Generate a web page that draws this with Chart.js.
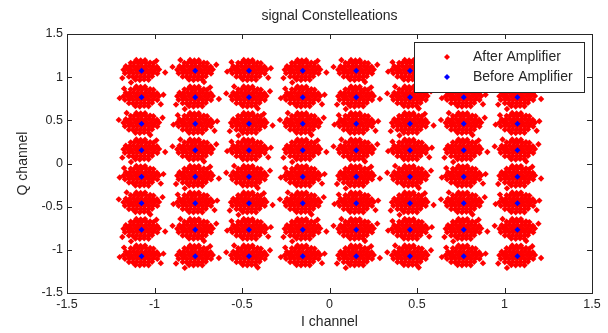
<!DOCTYPE html>
<html>
<head>
<meta charset="utf-8">
<script src="https://cdn.jsdelivr.net/npm/chart.js@4.4.0/dist/chart.umd.min.js"></script>
<style>
  html, body { margin: 0; padding: 0; background: #fff; }
</style>
</head>
<body>
<canvas id="chart" width="608" height="333"></canvas>
<script>
const iLevels = [-1.074, -0.767, -0.460, -0.153, 0.153, 0.460, 0.767, 1.074];
const qLevels = [-1.074, -0.767, -0.460, -0.153, 0.153, 0.460, 0.767, 1.074];
const tickValues = [-1.5, -1, -0.5, 0, 0.5, 1, 1.5];
const seriesNames = ['After Amplifier', 'Before Amplifier'];

// spread of the red cloud round each point (dI, dQ)
const cloudCore = [
  [-0.030, 0.125], [-0.005, 0.119], [0.020, 0.123],
  [-0.062, 0.092], [-0.040, 0.096], [-0.018, 0.090], [0.004, 0.094], [0.027, 0.091], [0.049, 0.095], [0.068, 0.088],
  [-0.090, 0.053], [-0.068, 0.050], [-0.046, 0.054], [-0.024, 0.051], [-0.002, 0.053], [0.021, 0.050], [0.043, 0.054], [0.065, 0.051], [0.088, 0.047],
  [-0.103, 0.012], [-0.080, 0.014], [-0.058, 0.010], [-0.035, 0.013], [-0.013, 0.011], [0.009, 0.014], [0.032, 0.010], [0.054, 0.013], [0.077, 0.011], [0.100, 0.015],
  [-0.095, -0.029], [-0.070, -0.026], [-0.047, -0.030], [-0.024, -0.027], [-0.002, -0.029], [0.020, -0.026], [0.043, -0.030], [0.066, -0.027], [0.090, -0.031],
  [-0.072, -0.068], [-0.050, -0.070], [-0.028, -0.066], [-0.006, -0.069], [0.016, -0.067], [0.038, -0.070], [0.060, -0.065],
  [-0.035, -0.103], [-0.010, -0.106], [0.015, -0.100], [0.040, -0.104]
];
const cloudStray = [
  [[0.125, 0.030], [-0.125, -0.010], [0.110, -0.080], [-0.100, 0.100]],
  [[0.085, 0.115], [-0.110, -0.085], [0.135, -0.020], [-0.060, -0.135]],
  [[0.050, -0.130], [-0.130, 0.045], [0.120, 0.070], [-0.085, 0.125]]
];

const before = [];
const after = [];
qLevels.forEach((q, r) => {
  iLevels.forEach((i, c) => {
    before.push({x: i, y: q});
    cloudCore.concat(cloudStray[(r + c) % cloudStray.length]).forEach(d => {
      after.push({x: i + d[0], y: q + d[1]});
    });
  });
});

const ink = '#262626';
Chart.defaults.font.family = '"Liberation Sans", Arial, sans-serif';
Chart.defaults.color = ink;

// matlab-like frame, inward ticks, title and boxed legend
const frame = {
  id: 'frame',
  afterDraw(chart) {
    const {ctx, chartArea: a, scales: {x, y}} = chart;
    ctx.save();
    ctx.strokeStyle = ink;
    ctx.lineWidth = 1;
    ctx.strokeRect(a.left + 0.5, a.top + 0.5, a.right - a.left, a.bottom - a.top);
    ctx.beginPath();
    tickValues.forEach(v => {
      const px = Math.round(x.getPixelForValue(v)) + 0.5;
      ctx.moveTo(px, a.bottom); ctx.lineTo(px, a.bottom - 5);
      ctx.moveTo(px, a.top); ctx.lineTo(px, a.top + 5);
      const py = Math.round(y.getPixelForValue(v)) + 0.5;
      ctx.moveTo(a.left, py); ctx.lineTo(a.left + 5, py);
      ctx.moveTo(a.right, py); ctx.lineTo(a.right - 5, py);
    });
    ctx.stroke();

    ctx.fillStyle = ink;
    ctx.font = '14px "Liberation Sans", Arial, sans-serif';
    ctx.textAlign = 'center';
    ctx.textBaseline = 'middle';
    ctx.fillText('signal Constelleations', (a.left + a.right) / 2, 16);

    // legend
    const lw = 170, lh = 50;
    const lx = a.right - 8 - lw, ly = a.top + 8;
    ctx.fillStyle = '#fff';
    ctx.fillRect(lx, ly, lw, lh);
    ctx.strokeRect(lx + 0.5, ly + 0.5, lw, lh);
    ctx.font = '14px "Liberation Sans", Arial, sans-serif';
    ctx.textAlign = 'left';
    chart.data.datasets.forEach((ds, k) => {
      const ry = ly + 15 + k * 20;
      ctx.fillStyle = ds.backgroundColor;
      Chart.helpers.drawPoint(ctx, {pointStyle: 'rectRot', radius: 3, borderWidth: 0, rotation: 0}, lx + 33, ry);
      ctx.fillStyle = ink;
      ctx.fillText(ds.label, lx + 59, ry);
    });
    ctx.restore();
  }
};

const axisTicks = {
  callback: v => String(v),
  font: {size: 12.5},
  color: ink,
  padding: 4,
  maxRotation: 0,
  autoSkip: false
};

new Chart(document.getElementById('chart').getContext('2d'), {
  type: 'scatter',
  data: {
    datasets: [{
      label: seriesNames[0],
      data: after,
      backgroundColor: '#ff0000',
      pointStyle: 'rectRot',
      pointRadius: 3.2,
      borderWidth: 0,
      order: 1
    }, {
      label: seriesNames[1],
      data: before,
      backgroundColor: '#0000ff',
      pointStyle: 'rectRot',
      pointRadius: 3,
      borderWidth: 0,
      order: 0
    }]
  },
  options: {
    responsive: false,
    animation: false,
    events: [],
    layout: {padding: {top: 34, right: 16, left: 0, bottom: 0}},
    scales: {
      x: {
        type: 'linear',
        min: -1.5,
        max: 1.5,
        afterBuildTicks: s => { s.ticks = tickValues.map(v => ({value: v})); },
        afterFit: s => { s.height = 40; },
        ticks: axisTicks,
        grid: {display: false, drawTicks: false},
        border: {display: false},
        title: {display: true, text: 'I channel', font: {size: 14}, color: ink, padding: {top: 0, bottom: 2}}
      },
      y: {
        type: 'linear',
        min: -1.5,
        max: 1.5,
        afterBuildTicks: s => { s.ticks = tickValues.map(v => ({value: v})); },
        afterFit: s => { s.width = 67; },
        ticks: axisTicks,
        grid: {display: false, drawTicks: false},
        border: {display: false},
        title: {display: true, text: 'Q channel', font: {size: 14}, color: ink, padding: {top: 15, bottom: 0}}
      }
    },
    plugins: {
      legend: {display: false},
      title: {display: false},
      tooltip: {enabled: false}
    }
  },
  plugins: [frame]
});
</script>
</body>
</html>
